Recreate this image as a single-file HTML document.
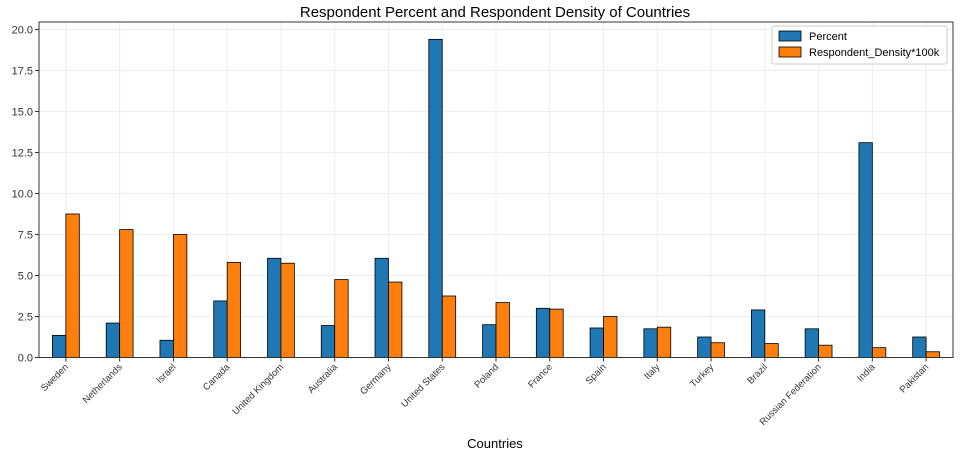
<!DOCTYPE html>
<html><head><meta charset="utf-8"><style>
body{margin:0;background:#fff;font-family:"Liberation Sans","DejaVu Sans",sans-serif}
</style></head><body>
<svg id="chart" width="966" height="465" xmlns="http://www.w3.org/2000/svg" font-family="Liberation Sans, DejaVu Sans, sans-serif">
<text x="495" y="17" text-anchor="middle" font-size="15" fill="#000">Respondent Percent and Respondent Density of Countries</text>
<text x="495" y="448" text-anchor="middle" font-size="13" fill="#000">Countries</text>
<g id="grid"></g><g id="bars"></g><g id="axes"></g>
<g>
<rect x="772" y="26" width="175" height="38" fill="#fff" stroke="#ccc" rx="2"/>
<rect x="779" y="31" width="22" height="10" fill="#1f77b4" stroke="#000" stroke-width="0.8"/>
<text x="809" y="40" font-size="11">Percent</text>
<rect x="779" y="47" width="22" height="10" fill="#ff7f0e" stroke="#000" stroke-width="0.8"/>
<text x="809" y="56" font-size="11">Respondent_Density*100k</text>
</g>
</svg>
<script>
const categories=["Sweden","Netherlands","Israel","Canada","United Kingdom","Australia","Germany","United States","Poland","France","Spain","Italy","Turkey","Brazil","Russian Federation","India","Pakistan"];
const percentValues=[1.35,2.1,1.05,3.45,6.05,1.95,6.05,19.4,2.0,3.0,1.8,1.75,1.25,2.9,1.75,13.1,1.25];
const densityValues=[8.75,7.8,7.5,5.8,5.75,4.75,4.6,3.75,3.35,2.95,2.5,1.85,0.9,0.85,0.75,0.6,0.35];
const yTicks=[0,2.5,5,7.5,10,12.5,15,17.5,20];
const L=39,R=953,T=22,B=357.5;
const ns="http://www.w3.org/2000/svg";
const y=v=>B-(v/20)*(B-29.5);
const step=(R-L)/categories.length;
const xc=i=>L+step*(i+0.5);
function mk(tag,attrs,parent){const e=document.createElementNS(ns,tag);for(const k in attrs)e.setAttribute(k,attrs[k]);document.getElementById(parent).appendChild(e);return e;}
yTicks.forEach(t=>{
 const g=mk('line',{x1:L,x2:R,y1:y(t),y2:y(t),stroke:'#eee','stroke-width':1},'grid');
 
 
 const tk=mk('line',{x1:L-4,x2:L,y1:y(t),y2:y(t),stroke:'#333'},'axes');
 
 
 const lb=mk('text',{x:L-6,y:y(t)+4,'text-anchor':'end','font-size':11,fill:'#333'},'axes');
 lb.textContent=t.toFixed(1);
 
 
});
const bw=step*0.25;
categories.forEach((c,i)=>{
 const g=mk('line',{x1:xc(i),x2:xc(i),y1:T,y2:B,stroke:'#eee'},'grid');
 
 
 const b1=mk('rect',{x:xc(i)-bw,y:y(percentValues[i]),width:bw,height:B-y(percentValues[i]),fill:'#1f77b4',stroke:'#000','stroke-width':0.8},'bars');
 
 
 const b2=mk('rect',{x:xc(i),y:y(densityValues[i]),width:bw,height:B-y(densityValues[i]),fill:'#ff7f0e',stroke:'#000','stroke-width':0.8},'bars');
 
 
 const tk=mk('line',{x1:xc(i),x2:xc(i),y1:B,y2:B+4,stroke:'#333'},'axes');
 
 
 const lb=mk('text',{x:xc(i)+3,y:B+10,'text-anchor':'end','font-size':9.5,fill:'#333',transform:`rotate(-45 ${xc(i)+3} ${B+10})`},'axes');
 lb.textContent=c;
 
 
});
const fr=mk('rect',{x:L,y:T,width:R-L,height:B-T,fill:'none',stroke:'#333','stroke-width':1},'axes');


</script>
</body></html>
